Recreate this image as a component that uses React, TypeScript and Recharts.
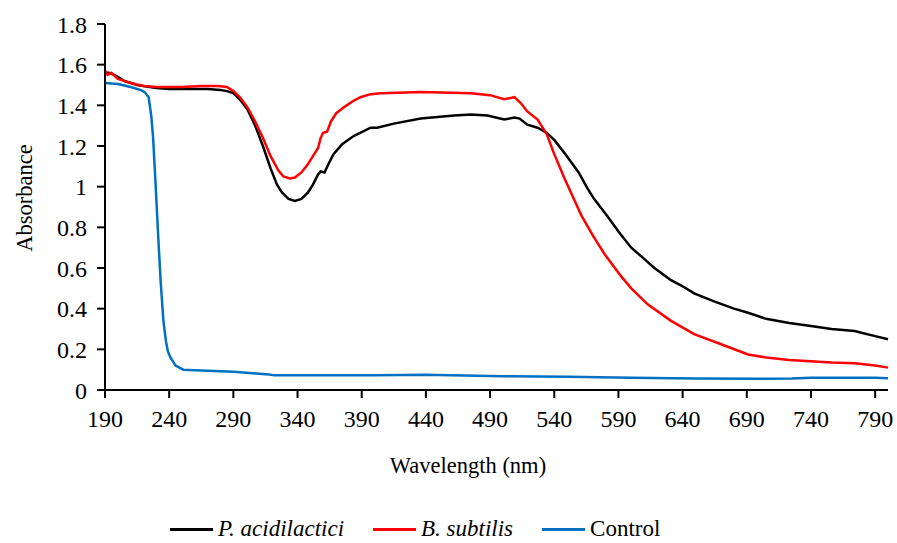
import React from "react";
import { LineChart, Line, XAxis, YAxis, Legend, Label } from "recharts";

const FONT = "Liberation Serif, Tinos, DejaVu Serif, serif";

const xTicks = [190, 240, 290, 340, 390, 440, 490, 540, 590, 640, 690, 740, 790];
const yTicks = [0, 0.2, 0.4, 0.6, 0.8, 1, 1.2, 1.4, 1.6, 1.8];

const pacidWavelength = [190, 193, 197, 200, 205, 210, 215, 220, 230, 240, 255, 270, 280, 285, 290, 295, 301, 307, 313, 319, 324, 328, 333, 338, 343, 348, 352, 356, 358, 361, 364, 368, 375, 384, 397, 402, 415, 436, 462, 475, 488, 501, 509, 513, 519, 527, 534, 540, 548, 559, 566, 571, 582, 590, 600, 610, 618, 631, 640, 649, 665, 680, 691, 705, 723, 740, 756, 774, 780, 790, 800];
const pacidAbs = [1.56, 1.56, 1.55, 1.54, 1.52, 1.51, 1.5, 1.495, 1.485, 1.48, 1.48, 1.48, 1.475, 1.47, 1.46, 1.43, 1.38, 1.3, 1.2, 1.09, 1.01, 0.97, 0.94, 0.93, 0.94, 0.97, 1.01, 1.06, 1.075, 1.07, 1.11, 1.16, 1.21, 1.25, 1.29, 1.29, 1.31, 1.335, 1.35, 1.355, 1.35, 1.33, 1.34, 1.335, 1.305, 1.29, 1.265, 1.23, 1.165, 1.07, 0.99, 0.94, 0.85, 0.78, 0.7, 0.645, 0.6, 0.54, 0.51, 0.475, 0.435, 0.4, 0.38, 0.35, 0.33, 0.315, 0.3, 0.29, 0.28, 0.265, 0.25];

const bsubWavelength = [190, 192, 195, 200, 205, 210, 220, 230, 250, 265, 278, 285, 290, 295, 301, 307, 313, 319, 325, 329, 334, 338, 343, 348, 352, 356, 358, 360, 363, 366, 370, 376, 383, 389, 397, 405, 436, 475, 490, 501, 509, 514, 519, 527, 534, 540, 548, 556, 561, 570, 579, 592, 600, 613, 631, 649, 670, 691, 705, 723, 756, 774, 790, 800];
const bsubAbs = [1.57, 1.55, 1.56, 1.53, 1.52, 1.51, 1.495, 1.49, 1.49, 1.495, 1.495, 1.49, 1.47, 1.44, 1.39, 1.32, 1.24, 1.15, 1.08, 1.05, 1.04, 1.045, 1.07, 1.11, 1.15, 1.19, 1.24, 1.265, 1.27, 1.32, 1.36, 1.39, 1.42, 1.44, 1.455, 1.46, 1.465, 1.46, 1.45, 1.43, 1.44, 1.41, 1.37, 1.33, 1.26, 1.16, 1.04, 0.93, 0.86, 0.76, 0.67, 0.56, 0.5, 0.42, 0.34, 0.275, 0.225, 0.175, 0.16, 0.148, 0.135, 0.132, 0.12, 0.11];

const controlWavelength = [190, 200, 210, 218, 221, 224, 226, 227.5, 229.5, 231.5, 233.5, 235.5, 237.5, 239, 241, 245, 251, 270, 290, 310, 318, 322, 400, 440, 500, 550, 600, 650, 700, 725, 740, 790, 800];
const controlAbs = [1.51, 1.505, 1.49, 1.475, 1.465, 1.44, 1.35, 1.24, 1.0, 0.75, 0.52, 0.34, 0.24, 0.19, 0.16, 0.12, 0.1, 0.095, 0.09, 0.08, 0.076, 0.072, 0.072, 0.075, 0.068, 0.065, 0.06, 0.057, 0.055, 0.056, 0.06, 0.06, 0.058];

const toPoints = (xs: number[], ys: number[]) => xs.map((x, i) => ({ x, y: ys[i] }));

const series = [
  { name: "P. acidilactici", italic: true, color: "#000000", data: toPoints(pacidWavelength, pacidAbs) },
  { name: "B. subtilis", italic: true, color: "#FF0000", data: toPoints(bsubWavelength, bsubAbs) },
  { name: "Control", italic: false, color: "#0070C0", data: toPoints(controlWavelength, controlAbs) },
];

const LegendContent = () => (
  <div style={{ height: 63, width: 897, position: "relative", fontFamily: FONT, fontSize: 23, color: "#000" }}>
    <div style={{ position: "absolute", left: 170, top: 36, display: "flex", alignItems: "center", lineHeight: "26px" }}>
      {series.map((s, i) => (
        <div key={s.name} style={{ display: "flex", alignItems: "center", marginRight: i < series.length - 1 ? 29 : 0 }}>
          <div style={{ width: 43, height: 3, background: s.color, marginRight: 5 }} />
          <span style={{ fontStyle: s.italic ? "italic" : "normal" }}>{s.name}</span>
        </div>
      ))}
    </div>
  </div>
);

export default function App() {
  return (
    <div style={{ position: "absolute", left: 0, top: 0, background: "#fff" }}>
      <LineChart width={897} height={543} margin={{ top: 24, right: 9, left: 0, bottom: 0 }} style={{ fontFamily: FONT }}>
        <XAxis
          type="number"
          dataKey="x"
          domain={[190, 800]}
          ticks={xTicks}
          allowDuplicatedCategory={false}
          height={90}
          stroke="#000"
          strokeWidth={2}
          tickSize={8}
          tickMargin={12}
          tick={{ fill: "#000", fontSize: 24, fontFamily: FONT }}
        >
          <Label
            content={() => (
              <text x={468} y={473} textAnchor="middle" style={{ fontFamily: FONT }} fontSize={22.5} fill="#000">
                Wavelength (nm)
              </text>
            )}
          />
        </XAxis>
        <YAxis
          type="number"
          dataKey="y"
          domain={[0, 1.8]}
          ticks={yTicks}
          width={105}
          stroke="#000"
          strokeWidth={2}
          tickSize={8}
          tickMargin={10}
          tick={{ fill: "#000", fontSize: 24, fontFamily: FONT }}
        >
          <Label
            content={() => (
              <text x={32} y={198} transform="rotate(-90 32 198)" textAnchor="middle" style={{ fontFamily: FONT }} fontSize={22.5} fill="#000">
                Absorbance
              </text>
            )}
          />
        </YAxis>
        <Legend verticalAlign="bottom" content={<LegendContent />} wrapperStyle={{ left: 0, width: 897, height: 63 }} />
        {series.map((s) => (
          <Line
            key={s.name}
            data={s.data}
            dataKey="y"
            name={s.name}
            type="linear"
            stroke={s.color}
            strokeWidth={2.5}
            dot={false}
            activeDot={false}
            isAnimationActive={false}
          />
        ))}
      </LineChart>
    </div>
  );
}
